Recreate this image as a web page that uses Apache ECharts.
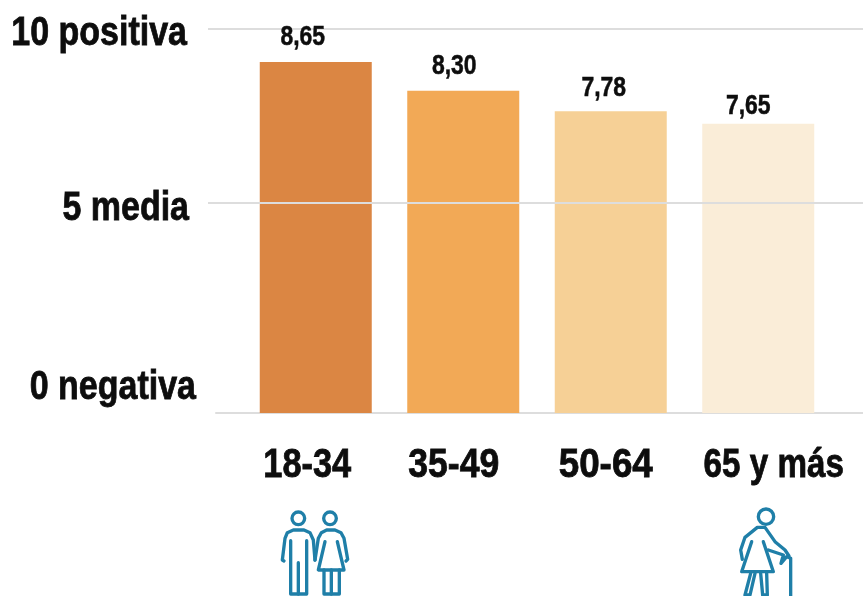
<!DOCTYPE html>
<html><head><meta charset="utf-8">
<style>html,body{margin:0;padding:0;background:#fff}#c{width:863px;height:596px}</style>
<script src="https://cdn.jsdelivr.net/npm/echarts@6/dist/echarts.min.js"></script>
</head><body><div id="c"></div>
<script>
const categories = ['18-34','35-49','50-64','65 y más'];
const valueLabels = ['8,65','8,30','7,78','7,65'];
const barHeights = [9.14,8.39,7.86,7.53];
const tickValues = [0,5.47,10];
const tickLabels = ['0 negativa','5 media','10 positiva'];
const barColors = ['#DB8643','#F2A956','#F6D096','#FAEDD8'];

const font = '"Liberation Sans",sans-serif';
const ink = '#0d0d0d', rule = '#dddddd', blue = '#1F7FA8';
const valueNudge = [[-13,-24],[-9,-24],[-7,-23],[-10,-17]];
const tickNudge = [[-12,-25],[-19,6],[-21,5]];
const catNudge = [-8.5,-9.5,-5,15.5];
const catSqueeze = [0.86,0.89,0.92,0.83];

const txt = (text,x,y,size,align,sx) => ({type:'text',x,y,scaleX:sx,silent:true,
  style:{text,fontFamily:font,fontWeight:'bold',fontSize:size,fill:ink,stroke:ink,lineWidth:size>30?0.8:0.5,align,verticalAlign:'middle'}});

const stroke = {fill:'none', stroke:blue, lineWidth:10, lineJoin:'round', lineCap:'round'};
const icon = (x, y, heads, lines) => ({type:'group', x, y, scaleX:1/3, scaleY:1/3, silent:true, children:[
  ...heads.map(h => ({type:'circle', shape:{cx:h[0],cy:h[1],r:h[2]}, style:stroke})),
  ...lines.map(p => ({type:'polyline', shape:{points:p}, style:stroke}))
]});
const coupleIcon = icon(260,500,[[115,55,19],[210,55,19]],[
  [[72,183],[67,180],[75,115],[82,98],[100,90],[132,90],[150,98],[160,120],[165,180]],
  [[92,122],[92,282],[140,282],[140,122]],
  [[115,188],[115,282]],
  [[165,180],[175,115],[184,98],[200,90],[225,90],[243,98],[252,115],[263,178],[258,183]],
  [[195,125],[175,210],[252,210],[232,125]],
  [[192,210],[192,282],[238,282],[238,210]],
  [[214,210],[214,282]]
]);
const elderIcon = icon(720,500,[[138,50,23]],[
  [[67,178],[62,150],[75,112],[112,82],[135,82],[165,125],[195,150],[207,168]],
  [[95,125],[65,215],[160,215],[130,125]],
  [[145,150],[190,165],[183,190],[200,170],[212,175],[212,288]],
  [[92,220],[75,285],[90,285],[105,220]],
  [[122,220],[128,285],[142,285],[140,220]]
]);

const chart = echarts.init(document.getElementById('c'));
chart.setOption({
  animation:false,
  grid:[
    {left:208,right:0,top:29,bottom:183,outerBoundsMode:'none'},
    {left:216,right:0,top:29,bottom:183,outerBoundsMode:'none'},
    {left:242,width:590,top:29,bottom:183,outerBoundsMode:'none'}
  ],
  xAxis:[
    {gridIndex:0,type:'value',min:0,max:1,show:false},
    {gridIndex:1,type:'value',axisLine:{show:true,onZero:false,lineStyle:{color:rule,width:2}},axisTick:{show:false},axisLabel:{show:false},splitLine:{show:false}},
    {gridIndex:2,type:'category',data:categories,axisLine:{show:false},axisTick:{show:false},axisLabel:{show:false}}
  ],
  yAxis:[
    {gridIndex:0,type:'value',min:0,max:10,z:3,
     axisLine:{show:false},axisTick:{show:false,customValues:tickValues},
     axisLabel:{show:false,customValues:tickValues},
     splitLine:{show:true,showMinLine:false,lineStyle:{color:rule,width:2}}},
    {gridIndex:1,type:'value',min:0,max:10,show:false},
    {gridIndex:2,type:'value',min:0,max:10,show:false}
  ],
  series:[
    {type:'bar',xAxisIndex:2,yAxisIndex:2,barWidth:112,z:2,
     data:barHeights.map((v,i)=>({value:v,itemStyle:{color:barColors[i]}}))},
    {type:'custom',xAxisIndex:2,yAxisIndex:2,z:6,silent:true,clip:false,
     data:barHeights.map((v,i)=>[i,v]),
     renderItem:(p,api)=>{const c=api.coord([api.value(0),api.value(1)]);const n=valueNudge[p.dataIndex];
       return txt(valueLabels[p.dataIndex],c[0]+n[0],c[1]+n[1],27,'center',0.85);}},
    {type:'custom',xAxisIndex:2,yAxisIndex:2,z:6,silent:true,clip:false,
     data:categories.map((c,i)=>[i,0]),
     renderItem:(p,api)=>{const c=api.coord([api.value(0),0]);const i=p.dataIndex;
       return txt(categories[i],c[0]+catNudge[i],c[1]+53,40,'center',catSqueeze[i]);}},
    {type:'custom',xAxisIndex:0,yAxisIndex:0,z:6,silent:true,clip:false,
     data:tickValues.map(v=>[0,v]),
     renderItem:(p,api)=>{const c=api.coord([0,api.value(1)]);const n=tickNudge[p.dataIndex];
       return txt(tickLabels[p.dataIndex],c[0]+n[0],c[1]+n[1],40,'right',0.85);}}
  ],
  graphic:[coupleIcon,elderIcon]
});
</script></body></html>
